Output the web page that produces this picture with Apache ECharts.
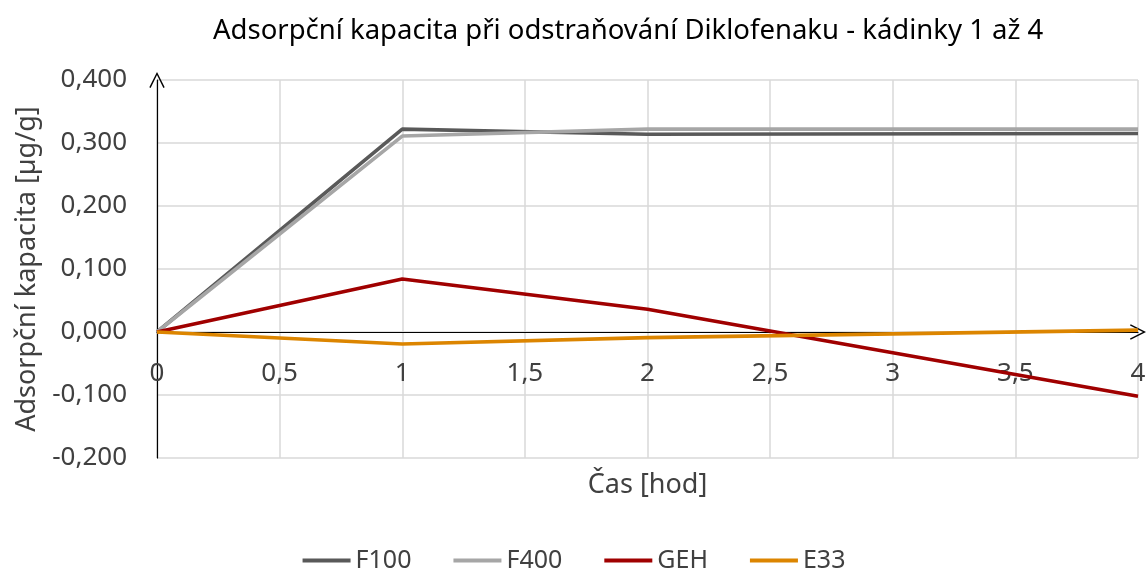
<!DOCTYPE html>
<html lang="cs">
<head>
    <meta charset="UTF-8">
    <title>adsorpce</title>
    <script src="https://cdn.jsdelivr.net/npm/echarts@6.0.0/dist/echarts.min.js"></script>
</head>
<body style="margin:0">
<div id="main" style="width: 1148px;height:574px;"></div>
<script>
    // cas [hod] a hodnoty adsorpcni kapacity
    var hours = [0, 1, 2, 4];
    var f100 = [0, 0.322, 0.314, 0.315];
    var f400 = [0, 0.311, 0.322, 0.322];
    var geh = [0, 0.084, 0.036, -0.102];
    var e33 = [0, -0.019, -0.009, 0.003];
    var names = ['F100', 'F400', 'GEH', 'E33'];
    var colors = ['#595959', '#a6a6a6', '#a00000', '#dc8500'];

    function pairs(ys) {
        var out = [];
        for (var i = 0; i < hours.length; i++) {
            out.push([hours[i], ys[i]]);
        }
        return out;
    }

    var font = 'Noto Sans';
    // tenka otevrena sipka jako v Excelu
    var chevron = 'path://M0,12 L6,0 L12,12 L11,12.5 L6,2.4 L1,12.5 Z';

    var chart = echarts.init(document.getElementById('main'));
    var allData = [f100, f400, geh, e33];
    var series = [];
    for (var k = 0; k < names.length; k++) {
        series.push({
            name: names[k],
            type: 'line',
            symbol: 'none',
            data: pairs(allData[k]),
            lineStyle: {width: 3.6, color: colors[k]},
            itemStyle: {color: colors[k]}
        });
    }

    var option = {
        animation: false,
        textStyle: {fontFamily: font},
        title: {
            text: 'Adsorpční kapacita při odstraňování Diklofenaku - kádinky 1 až 4',
            left: 208,
            top: 12,
            textStyle: {fontFamily: font, fontSize: 27.5, fontWeight: 'normal', color: '#000'}
        },
        legend: {
            top: 543,
            left: 'center',
            icon: 'rect',
            itemWidth: 48,
            itemHeight: 4,
            itemGap: 42,
            textStyle: {fontFamily: font, fontSize: 25, color: '#404040'},
            data: names
        },
        grid: {
            left: 157,
            right: 10,
            top: 80,
            bottom: 116,
            outerBoundsMode: 'none'
        },
        xAxis: {
            type: 'value',
            min: 0,
            max: 4,
            interval: 0.5,
            name: 'Čas [hod]',
            nameLocation: 'middle',
            nameGap: 14,
            nameTextStyle: {fontSize: 27, color: '#404040'},
            axisLine: {
                onZero: true,
                symbol: ['none', chevron],
                symbolSize: [18, 16],
                lineStyle: {color: '#000', width: 1.2}
            },
            axisTick: {show: false},
            axisLabel: {
                fontSize: 26,
                color: '#404040',
                margin: -97,
                formatter: function (v) { return String(v).replace('.', ','); }
            },
            splitLine: {show: true, lineStyle: {color: '#d9d9d9', width: 1.5}}
        },
        yAxis: {
            type: 'value',
            min: -0.2,
            max: 0.4,
            interval: 0.1,
            name: 'Adsorpční kapacita [µg/g]',
            nameLocation: 'middle',
            nameGap: 113,
            nameTextStyle: {fontSize: 27, color: '#404040'},
            axisLine: {
                show: true,
                symbol: ['none', chevron],
                symbolSize: [18, 16],
                lineStyle: {color: '#000', width: 1.2}
            },
            axisTick: {show: false},
            axisLabel: {
                fontSize: 26,
                color: '#404040',
                margin: 30,
                formatter: function (v) { return v.toFixed(3).replace('.', ','); }
            },
            splitLine: {show: true, lineStyle: {color: '#d9d9d9', width: 1.5}}
        },
        series: series
    };
    chart.setOption(option);
</script>
</body>
</html>
